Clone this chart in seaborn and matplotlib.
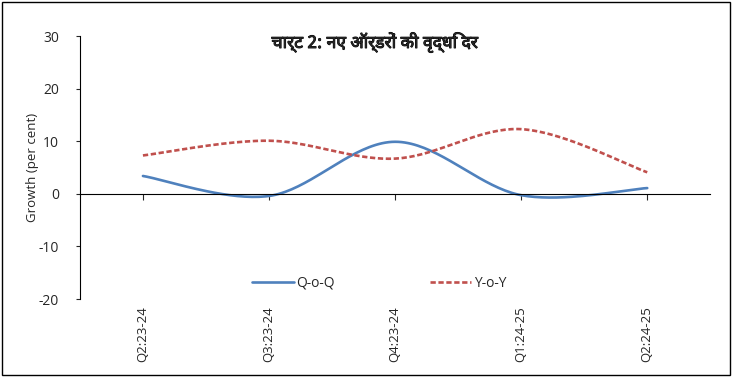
import numpy as np
import pandas as pd
import seaborn as sns
import matplotlib.pyplot as plt
import matplotlib.patheffects as pe
from matplotlib.patches import Rectangle

quarters = ["Q2:23-24", "Q3:23-24", "Q4:23-24", "Q1:24-25", "Q2:24-25"]
qoq = [3.4, -0.4, 9.9, -0.25, 1.1]
yoy = [7.3, 10.1, 6.7, 12.3, 4.1]

title = "चार्ट 2: नए ऑर्डरों की वृद्धि दर"


def smooth(xs, ys, n=40):
    """Excel-style smoothed line: cubic Bezier through each point pair."""
    p = np.column_stack([xs, ys]).astype(float)
    p = np.vstack([p[0], p, p[-1]])
    out = []
    t = np.linspace(0, 1, n)[:, None]
    for i in range(1, len(p) - 2):
        p0, p1, p2, p3 = p[i - 1], p[i], p[i + 1], p[i + 2]
        c1 = p1 + (p2 - p0) / 6
        c2 = p2 - (p3 - p1) / 6
        seg = ((1 - t) ** 3) * p1 + 3 * ((1 - t) ** 2) * t * c1 + 3 * (1 - t) * t ** 2 * c2 + t ** 3 * p2
        out.append(seg if i == 1 else seg[1:])
    return np.vstack(out)


sns.set_style("white")
plt.rcParams["font.family"] = ["Open Sans", "Noto Sans Devanagari", "Lohit Devanagari",
                               "FreeSans", "Noto Sans", "DejaVu Sans"]
plt.rcParams["axes.unicode_minus"] = False

xpos = np.arange(len(quarters))
frames = []
for name, vals in [("Q-o-Q", qoq), ("Y-o-Y", yoy)]:
    c = smooth(xpos, vals)
    frames.append(pd.DataFrame({"x": c[:, 0], "y": c[:, 1], "series": name}))
df = pd.concat(frames, ignore_index=True)

fig = plt.figure(figsize=(7.33, 3.83), dpi=100)
ax = fig.add_axes([0.109, 0.219, 0.860, 0.687])

sns.lineplot(data=df, x="x", y="y", hue="series", style="series",
             palette={"Q-o-Q": "#4F81BD", "Y-o-Y": "#C0504D"},
             dashes={"Q-o-Q": "", "Y-o-Y": (2, 1)},
             linewidth=1.9, sort=False, estimator=None, ax=ax)

ax.set_xlim(-0.5, len(quarters) - 0.5)
ax.set_ylim(-20, 30)
ax.set_yticks(range(-20, 31, 10))
ax.tick_params(axis="y", labelsize=10, length=3, direction="out", left=True, pad=12)

for s in ["top", "right"]:
    ax.spines[s].set_visible(False)
ax.spines["left"].set_color("black")
ax.spines["bottom"].set_position(("data", 0))
ax.spines["bottom"].set_color("black")
ax.set_xticks(xpos)
ax.set_xticklabels([])
ax.tick_params(axis="x", length=4, direction="out", bottom=True)

sec = ax.secondary_xaxis("bottom")
sec.set_xticks(xpos)
sec.set_xticklabels(quarters, rotation=90, fontsize=9.5)
sec.tick_params(length=0, pad=5)
sec.spines["bottom"].set_visible(False)

ax.set_xlabel("")
ax.set_ylabel("Growth (per cent)", fontsize=9.5, labelpad=0)

ax.text(0.468, 0.975, title, transform=ax.transAxes, ha="center", va="center",
        fontsize=12.5, fontweight="bold",
        family=["Noto Sans Devanagari", "Lohit Devanagari", "FreeSans", "Open Sans", "DejaVu Sans"],
        path_effects=[pe.withStroke(linewidth=0.7, foreground="black")])

handles, labels = ax.get_legend_handles_labels()
ax.legend(handles, labels, loc="center", bbox_to_anchor=(0.475, 0.061), ncol=2,
          frameon=False, fontsize=10, handlelength=3.0, columnspacing=6.8, handletextpad=0.2)

fig.add_artist(Rectangle((0.003, 0.02), 0.993, 0.975, transform=fig.transFigure,
                         fill=False, edgecolor="black", linewidth=1))

fig.savefig("out.png", dpi=100)
